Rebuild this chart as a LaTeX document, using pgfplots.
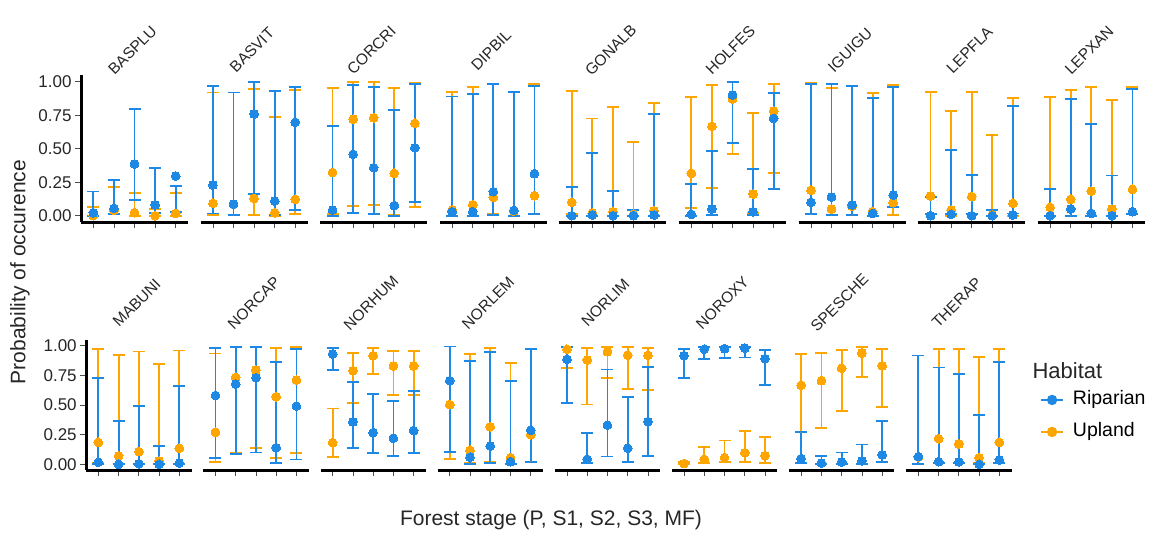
\documentclass[border=0pt]{standalone}
\usepackage{fontspec}
\setmainfont{Liberation Sans}
\usepackage{pgfplots}
\usepackage{pgfplotstable}
\pgfplotsset{compat=1.18}
\definecolor{rip}{RGB}{30,136,229}
\definecolor{upl}{RGB}{255,165,0}
\newcommand\tickfont{\fontsize{17pt}{17pt}\selectfont}
\newcommand\stripfont{\fontsize{15.5pt}{15.5pt}\selectfont}
\newcommand\axfont{\fontsize{21pt}{21pt}\selectfont}
\newcommand\legfont{\fontsize{19.5pt}{19.5pt}\selectfont}

% columns: stage, riparian point/lo/hi, upland point/lo/hi
\pgfplotstableread{
x rp rlo rhi up ulo uhi
1 0.022 0.000 0.180 0.000 0.000 0.067
2 0.055 0.010 0.266 0.040 0.010 0.216
3 0.386 0.117 0.794 0.022 0.000 0.167
4 0.080 0.018 0.354 0.000 0.000 0.048
5 0.296 0.030 0.224 0.017 0.000 0.170
}\tBASPLU
\pgfplotstableread{
x rp rlo rhi up ulo uhi
1 0.229 0.017 0.970 0.092 0.005 0.920
2 0.087 0.005 0.920 0.085 0.005 0.920
3 0.759 0.162 0.995 0.129 0.005 0.945
4 0.109 0.005 0.933 0.022 0.000 0.739
5 0.697 0.042 0.963 0.122 0.010 0.938
}\tBASVIT
\pgfplotstableread{
x rp rlo rhi up ulo uhi
1 0.042 0.000 0.672 0.323 0.010 0.955
2 0.458 0.022 0.975 0.721 0.075 0.995
3 0.358 0.015 0.963 0.731 0.077 0.995
4 0.075 0.000 0.786 0.316 0.005 0.955
5 0.507 0.100 0.983 0.689 0.062 0.988
}\tCORCRI
\pgfplotstableread{
x rp rlo rhi up ulo uhi
1 0.030 0.000 0.890 0.042 0.000 0.925
2 0.030 0.000 0.910 0.082 0.000 0.960
3 0.179 0.005 0.985 0.137 0.010 0.985
4 0.040 0.000 0.925 0.035 0.000 0.925
5 0.313 0.010 0.970 0.149 0.010 0.980
}\tDIPBIL
\pgfplotstableread{
x rp rlo rhi up ulo uhi
1 0.000 0.000 0.216 0.100 0.010 0.930
2 0.005 0.000 0.470 0.020 0.000 0.726
3 0.000 0.000 0.187 0.030 0.000 0.813
4 0.000 0.000 0.042 0.010 0.000 0.552
5 0.005 0.000 0.759 0.037 0.000 0.841
}\tGONALB
\pgfplotstableread{
x rp rlo rhi up ulo uhi
1 0.010 0.000 0.236 0.316 0.055 0.888
2 0.050 0.005 0.485 0.667 0.204 0.973
3 0.900 0.540 0.995 0.871 0.460 0.995
4 0.030 0.005 0.346 0.162 0.022 0.766
5 0.726 0.197 0.913 0.781 0.316 0.985
}\tHOLFES
\pgfplotstableread{
x rp rlo rhi up ulo uhi
1 0.100 0.010 0.980 0.190 0.010 0.988
2 0.139 0.005 0.983 0.050 0.005 0.955
3 0.080 0.005 0.970 0.070 0.005 0.970
4 0.017 0.000 0.881 0.030 0.000 0.913
5 0.154 0.067 0.958 0.097 0.005 0.975
}\tIGUIGU
\pgfplotstableread{
x rp rlo rhi up ulo uhi
1 0.000 0.010 0.142 0.147 0.010 0.925
2 0.010 0.015 0.490 0.042 0.000 0.780
3 0.000 0.010 0.306 0.142 0.010 0.925
4 0.000 0.000 0.042 0.005 0.000 0.604
5 0.005 0.017 0.820 0.092 0.000 0.880
}\tLEPFLA
\pgfplotstableread{
x rp rlo rhi up ulo uhi
1 0.000 0.000 0.200 0.062 0.000 0.883
2 0.050 0.000 0.868 0.122 0.000 0.938
3 0.017 0.000 0.687 0.184 0.000 0.963
4 0.000 0.000 0.300 0.050 0.000 0.863
5 0.030 0.010 0.945 0.197 0.010 0.963
}\tLEPXAN
\pgfplotstableread{
x rp rlo rhi up ulo uhi
1 0.017 0.000 0.727 0.185 0.010 0.972
2 0.000 0.000 0.368 0.070 0.000 0.924
3 0.005 0.000 0.489 0.107 0.000 0.952
4 0.000 0.000 0.157 0.028 0.000 0.848
5 0.010 0.000 0.663 0.135 0.000 0.960
}\tMABUNI
\pgfplotstableread{
x rp rlo rhi up ulo uhi
1 0.580 0.050 0.980 0.270 0.020 0.935
2 0.677 0.087 0.986 0.733 0.100 0.986
3 0.730 0.100 0.990 0.795 0.140 0.990
4 0.140 0.010 0.862 0.570 0.053 0.980
5 0.490 0.040 0.970 0.710 0.093 0.986
}\tNORCAP
\pgfplotstableread{
x rp rlo rhi up ulo uhi
1 0.930 0.795 0.978 0.183 0.060 0.470
2 0.357 0.138 0.694 0.790 0.520 0.940
3 0.267 0.095 0.595 0.916 0.764 0.978
4 0.220 0.073 0.534 0.830 0.584 0.955
5 0.284 0.098 0.618 0.830 0.584 0.955
}\tNORHUM
\pgfplotstableread{
x rp rlo rhi up ulo uhi
1 0.705 0.104 0.994 0.503 0.045 0.994
2 0.060 0.000 0.870 0.118 0.010 0.930
3 0.154 0.010 0.949 0.317 0.020 0.978
4 0.022 0.000 0.705 0.056 0.000 0.851
5 0.287 0.017 0.972 0.250 0.020 0.972
}\tNORLEM
\pgfplotstableread{
x rp rlo rhi up ulo uhi
1 0.885 0.514 0.986 0.970 0.810 0.990
2 0.042 0.010 0.267 0.880 0.505 0.980
3 0.330 0.065 0.800 0.949 0.725 0.990
4 0.135 0.022 0.565 0.920 0.632 0.990
5 0.360 0.073 0.820 0.920 0.626 0.980
}\tNORLIM
\pgfplotstableread{
x rp rlo rhi up ulo uhi
1 0.916 0.730 0.972 0.006 0.000 0.022
2 0.970 0.888 0.990 0.042 0.010 0.149
3 0.975 0.896 0.990 0.056 0.020 0.200
4 0.980 0.900 0.990 0.098 0.022 0.284
5 0.890 0.671 0.963 0.073 0.010 0.228
}\tNOROXY
\pgfplotstableread{
x rp rlo rhi up ulo uhi
1 0.048 0.010 0.270 0.666 0.270 0.930
2 0.010 0.000 0.073 0.705 0.309 0.940
3 0.020 0.000 0.100 0.810 0.452 0.963
4 0.028 0.000 0.166 0.938 0.739 0.990
5 0.079 0.017 0.362 0.830 0.480 0.970
}\tSPESCHE
\pgfplotstableread{
x rp rlo rhi up ulo uhi
1 0.065 0.005 0.918 0.060 0.005 0.918
2 0.022 0.010 0.817 0.216 0.010 0.970
3 0.020 0.010 0.761 0.171 0.010 0.970
4 0.000 0.000 0.413 0.056 0.010 0.902
5 0.037 0.010 0.860 0.185 0.010 0.970
}\tTHERAP

\pgfplotsset{
  panel/.style={scale only axis, clip=false,
    xmin=0.4, xmax=5.6, ymin=-0.05, ymax=1.05,
    axis x line*=bottom,
    xtick={1,2,3,4,5}, xticklabels={},
    axis line style={-, line width=3pt, black},
    tick align=outside, major tick length=6pt,
    tick style={black!70, line width=0.8pt}},
  firsty/.style={axis y line*=left,
    ytick={0,0.25,0.5,0.75,1}, yticklabels={0.00,0.25,0.50,0.75,1.00},
    yticklabel style={font=\tickfont, text=black!85}},
  noy/.style={axis y line=none},
}
\newcommand\errs[4]{\addplot[forget plot, only marks, mark=*, mark size=0.2pt, color=#4,
  error bars/.cd, y dir=both, y explicit,
  error bar style={draw=#4, line width=1.8pt},
  error mark=-, error mark options={rotate=90, draw=#4, line width=1.8pt, mark size=6pt}]
  table[x=x, y=#2, y error plus expr={\thisrow{#3}-\thisrow{#2}}, y error minus expr={0}] {#1};}
\newcommand\pts[3]{\addplot[forget plot, only marks, mark=*, mark size=4.4pt,
  mark options={draw=#3, fill=#3, line width=0pt}] table[x=x, y=#2] {#1};}
% #1 x, #2 y, #3 w, #4 h, #5 table, #6 name, #7 strip shift, #8 options
\newcommand\panel[8]{%
\begin{axis}[panel, at={(#1pt,#2pt)}, width=#3pt, height=#4pt, #8]
 \errs{#5}{ulo}{uhi}{upl}
 \errs{#5}{rlo}{rhi}{rip}
 \pts{#5}{up}{upl}
 \pts{#5}{rp}{rip}
 \node[rotate=45, font=\stripfont, text=black!85] at ([yshift=#7pt]rel axis cs:0.48,1) {#6};
\end{axis}}

\begin{document}
\begin{tikzpicture}
\path[use as bounding box] (0,0) rectangle (1158pt,537pt);
% top row
\panel{81}{314.6}{107}{147.4}{\tBASPLU}{BASPLU}{25}{firsty}
\panel{200.6}{314.6}{107}{147.4}{\tBASVIT}{BASVIT}{25}{noy}
\panel{320.2}{314.6}{107}{147.4}{\tCORCRI}{CORCRI}{25}{noy}
\panel{439.8}{314.6}{107}{147.4}{\tDIPBIL}{DIPBIL}{25}{noy}
\panel{559.4}{314.6}{107}{147.4}{\tGONALB}{GONALB}{25}{noy}
\panel{679}{314.6}{107}{147.4}{\tHOLFES}{HOLFES}{25}{noy}
\panel{798.6}{314.6}{107}{147.4}{\tIGUIGU}{IGUIGU}{25}{noy}
\panel{918.2}{314.6}{107}{147.4}{\tLEPFLA}{LEPFLA}{25}{noy}
\panel{1037.8}{314.6}{107}{147.4}{\tLEPXAN}{LEPXAN}{25}{noy}
% bottom row
\panel{86.2}{66.8}{105.3}{130.4}{\tMABUNI}{MABUNI}{37}{firsty}
\panel{203.3}{66.8}{105.3}{130.4}{\tNORCAP}{NORCAP}{37}{noy}
\panel{320.5}{66.8}{105.3}{130.4}{\tNORHUM}{NORHUM}{37}{noy}
\panel{437.6}{66.8}{105.3}{130.4}{\tNORLEM}{NORLEM}{37}{noy}
\panel{554.8}{66.8}{105.3}{130.4}{\tNORLIM}{NORLIM}{37}{noy}
\panel{671.9}{66.8}{105.3}{130.4}{\tNOROXY}{NOROXY}{37}{noy}
\panel{789.0}{66.8}{105.3}{130.4}{\tSPESCHE}{SPESCHE}{37}{noy}
\begin{axis}[panel, noy, at={(906.2pt,66.8pt)}, width=105.3pt, height=130.4pt,
  legend style={at={(1.271,0.416)}, anchor=west, draw=none, fill=none,
    font=\legfont, inner sep=0pt, row sep=10pt,
    nodes={inner sep=2pt, text height=14pt, text depth=4pt}},
  legend cell align=left,
  legend image code/.code={\draw[#1, mark repeat=2, mark phase=2]
    plot coordinates {(0pt,0pt) (11pt,0pt) (22pt,0pt)};}]
 \errs{\tTHERAP}{ulo}{uhi}{upl}
 \errs{\tTHERAP}{rlo}{rhi}{rip}
 \pts{\tTHERAP}{up}{upl}
 \pts{\tTHERAP}{rp}{rip}
 \node[rotate=45, font=\stripfont, text=black!85] at ([yshift=37pt]rel axis cs:0.48,1) {THERAP};
 \addlegendimage{rip, line width=1.7pt, mark=*, mark size=4.3pt, mark options={fill=rip, draw=rip}}
 \addlegendentry{\hspace{7pt}Riparian}
 \addlegendimage{upl, line width=1.7pt, mark=*, mark size=4.3pt, mark options={fill=upl, draw=upl}}
 \addlegendentry{\hspace{7pt}Upland}
\end{axis}
\node[anchor=west, font=\fontsize{22pt}{22pt}\selectfont, text=black!85] at (1029pt,166pt) {Habitat};
\node[rotate=90, font=\axfont, text=black!85] at (20pt,265pt) {Probability of occurence};
\node[font=\axfont, text=black!85] at (551pt,17pt) {Forest stage (P, S1, S2, S3, MF)};
\end{tikzpicture}
\end{document}
